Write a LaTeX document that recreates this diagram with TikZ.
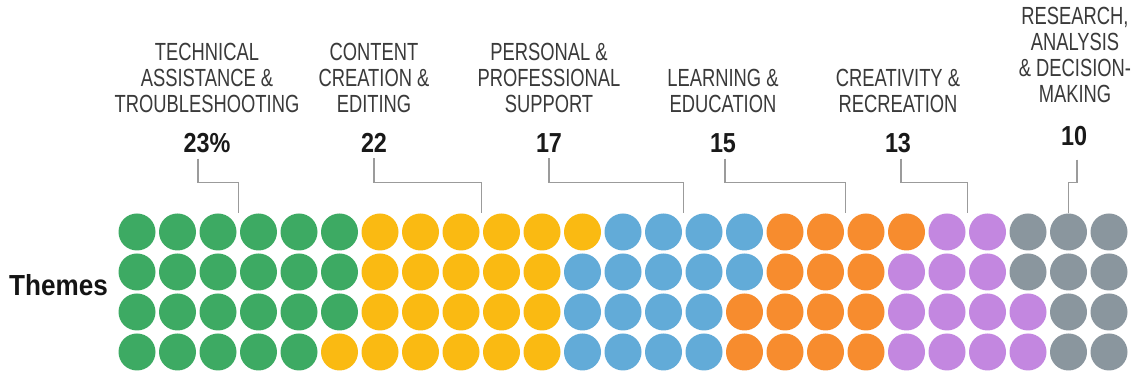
\documentclass[tikz,border=0pt]{standalone}
\usepackage{fontspec}
\usepackage{tikz}
\usetikzlibrary{positioning,calc}
\newfontfamily\labelfont[FakeStretch=0.74]{Liberation Sans}
\newfontfamily\numfont[FakeStretch=0.85]{Liberation Sans}
\newfontfamily\rowfont[FakeStretch=0.9]{Liberation Sans}
\definecolor{techgreen}{RGB}{61,170,99}
\definecolor{contentyellow}{RGB}{250,186,18}
\definecolor{personalblue}{RGB}{98,171,216}
\definecolor{learnorange}{RGB}{247,140,46}
\definecolor{createpurple}{RGB}{195,135,224}
\definecolor{researchgray}{RGB}{138,150,158}
\definecolor{labelgray}{RGB}{58,58,58}
\definecolor{leadgray}{RGB}{155,155,155}
\tikzset{>=latex}

\begin{document}
\begin{tikzpicture}[x=0.5pt, y=-0.5pt,
	dot/.style={circle, inner sep=0pt, minimum size=18.5pt},
	theme/.style={inner sep=0pt, align=center, text=labelgray, font=\labelfont\fontsize{12.4}{13}\selectfont},
	share/.style={inner sep=0pt, anchor=base, text=black!90, font=\numfont\bfseries\fontsize{13.75}{14}\selectfont},
	lead/.style={draw=leadgray, line width=0.7pt}]
	\fill[white] (0,0) rectangle (1132,379);
	\useasboundingbox (0,0) rectangle (1132,379);

	% dots, one run of a colour per row
	\foreach \r/\clr/\from/\to in {
		1/techgreen/1/6, 1/contentyellow/7/12, 1/personalblue/13/16, 1/learnorange/17/20, 1/createpurple/21/22, 1/researchgray/23/25,
		2/techgreen/1/6, 2/contentyellow/7/11, 2/personalblue/12/16, 2/learnorange/17/19, 2/createpurple/20/22, 2/researchgray/23/25,
		3/techgreen/1/6, 3/contentyellow/7/11, 3/personalblue/12/15, 3/learnorange/16/19, 3/createpurple/20/23, 3/researchgray/24/25,
		4/techgreen/1/5, 4/contentyellow/6/11, 4/personalblue/12/15, 4/learnorange/16/19, 4/createpurple/20/23, 4/researchgray/24/25}
		\foreach \c in {\from,...,\to}
			\node[dot, fill=\clr] (d-\r-\c) at ({137+(\c-1)*40.5}, {232+(\r-1)*40}) {};

	\node[inner sep=0pt, anchor=base, text=black!92, font=\rowfont\bfseries\fontsize{14.5}{15}\selectfont] (rows) at (58.5,296) {Themes};

	% shares
	\node[share] (n1) at (207,152.7) {23\%};
	\node[share] (n2) at (374,152.7) {22};
	\node[share] (n3) at (549,152.7) {17};
	\node[share] (n4) at (723,152.7) {15};
	\node[share] (n5) at (898,152.7) {13};
	\node[share] (n6) at (1074,146) {10};

	% themes
	\node[theme] (t1) [above=10pt of n1] {TECHNICAL\\ASSISTANCE \&\\TROUBLESHOOTING};
	\node[theme] (t2) [above=10pt of n2] {CONTENT\\CREATION \&\\EDITING};
	\node[theme] (t3) [above=10pt of n3] {PERSONAL \&\\PROFESSIONAL\\SUPPORT};
	\node[theme] (t4) [above=10pt of n4] {LEARNING \&\\EDUCATION};
	\node[theme] (t5) [above=10pt of n5] {CREATIVITY \&\\RECREATION};
	\node[theme] (t6) [above=11.5pt of n6, xshift=0.5pt] {RESEARCH,\\ANALYSIS\\\& DECISION-\\MAKING};

	% leaders
	\draw[lead] ([xshift=-4.5pt,yshift=-2.6pt]n1.south) -- ++(0,24) -| ($(d-1-3.north)!.5!(d-1-4.north)$);
	\draw[lead] ([yshift=-2.6pt]n2.south) -- ++(0,24) -| ($(d-1-9.north)!.5!(d-1-10.north)$);
	\draw[lead] ([yshift=-2.6pt]n3.south) -- ++(0,24) -| ($(d-1-14.north)!.5!(d-1-15.north)$);
	\draw[lead] ([xshift=1pt,yshift=-2.6pt]n4.south) -- ++(0,24) -| ($(d-1-18.north)!.5!(d-1-19.north)$);
	\draw[lead] ([xshift=1.5pt,yshift=-2.6pt]n5.south) -- ++(0,24) -| ($(d-1-21.north)!.5!(d-1-22.north)$);
	\draw[lead] ([xshift=1.5pt,yshift=-6.5pt]n6.south) -- ++(0,23) -| (d-1-24.north);
\end{tikzpicture}
\end{document}
